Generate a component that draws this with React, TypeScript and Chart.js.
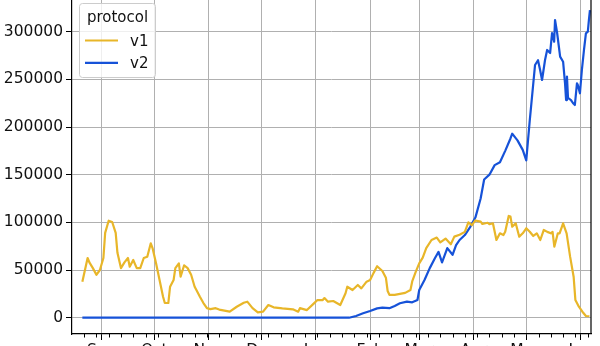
import React, { useEffect, useRef } from "react";
import { Chart, registerables } from "chart.js";

Chart.register(...registerables);

// Days are counted from 2022-09-01 (day 0).
const monthTickDays = [0, 30, 61, 91, 122, 153, 181, 212, 242, 273];
const monthTickLabels = ["Sep", "Oct", "Nov", "Dec", "Jan", "Feb", "Mar", "Apr", "May", "Jun"];
const yTickValues = [0, 50000, 100000, 150000, 200000, 250000, 300000];
const seriesLabels = ["v1", "v2"];
const legendTitle = "protocol";

const v1Days = [
  -11, -8, -7, -5, -3, -1, 1, 2, 4, 6, 8, 9, 11, 13, 15, 16, 18, 20, 22, 24, 26, 28, 29, 31, 33, 35, 36, 38, 39, 41,
  42, 44, 45, 47, 49, 51, 53, 54, 56, 58, 60, 62, 65, 67, 73, 77, 81, 83, 86, 89, 92, 95, 98, 103, 109, 112, 113,
  117, 121, 123, 126, 127, 129, 132, 136, 139, 140, 143, 146, 148, 151, 153, 155, 157, 160, 162, 163, 164, 167, 170,
  173, 176, 177, 179, 181, 183, 185, 188, 191, 193, 196, 199, 201, 204, 207, 209, 211, 213, 216, 217, 220, 221, 223,
  225, 227, 229, 230, 232, 233, 234, 236, 238, 240, 242, 244, 246, 248, 250, 252, 254, 256, 257, 258, 260, 261, 263,
  265, 267, 269, 270, 272, 274, 276, 278,
];
const v1Values = [
  37800, 62600, 58000, 52000, 45000, 50000, 62600, 89000, 101700, 100400, 89000, 68000, 52000, 58000, 62600, 53500,
  60500, 52000, 52000, 62600, 64000, 78000, 73000, 57000, 39500, 22000, 15400, 15400, 32500, 39500, 52000, 57000,
  43000, 55000, 52000, 45000, 32500, 29000, 22000, 15400, 10000, 9000, 10000, 8500, 6300, 11500, 15700, 16800, 10000,
  5600, 6300, 13300, 10900, 9800, 8800, 6300, 10000, 8000, 15000, 18500, 18500, 20600, 16800, 17500, 13300, 25600,
  32500, 29000, 34300, 30800, 37800, 39500, 47000, 54000, 49000, 42000, 28000, 24000, 24000, 25000, 26000, 29000,
  38000, 48000, 57000, 63000, 73000, 81500, 84000, 79000, 83000, 77000, 85000, 87000, 90000, 100000, 97000, 102000,
  100700, 98300, 99600, 98000, 99000, 81500, 88500, 86700, 90200, 106700, 106000, 95400, 99000, 85000, 88500, 93800,
  90200, 85700, 88500, 81500, 92000, 90000, 88500, 90000, 74500, 88500, 88500, 99000, 88500, 64000, 43000, 18500,
  11500, 6300, 1800, 1500,
];

const v2Days = [
  -11, 141, 145, 149, 153, 157, 160, 164, 167, 170, 174, 177, 180, 181, 184, 187, 190, 192, 194, 197, 200, 202, 204,
  207, 210, 213, 216, 218, 221, 224, 227, 230, 233, 234, 237, 240, 242, 244, 247, 248.7, 249.9, 251, 252.7, 253.9,
  255.6, 256.7, 257.9, 258.4, 259.6, 261.3, 263, 264.1, 264.7, 265.2, 265.8, 267.5, 268.7, 269.7, 270.9, 271.4, 272.6,
  273.7, 274.9, 276, 277.1, 277.7, 278.3,
];
const v2Values = [
  0, 0, 1800, 4600, 7000, 9800, 10500, 10000, 12300, 15100, 16800, 16100, 18500, 29000, 39500, 52000, 62600, 69000,
  58000, 73000, 66000, 76000, 81500, 86700, 95000, 105000, 125000, 145000, 150000, 160000, 163000, 175000, 188000,
  193000, 186000, 176000, 165000, 207000, 265000, 270000, 259800, 249300, 270300, 280800, 277600, 298600, 289500,
  312200, 298600, 273800, 268500, 245800, 228300, 252800, 230500, 228300, 224900, 223100, 245800, 244000, 235400,
  259800, 280800, 298300, 300000, 312200, 322700,
];

const YELLOW = "#e8b629";
const BLUE = "#1652d8";
const GRID = "#b0b0b0";
const TEXT = "#111111";
const FONT_FAMILY = "'DejaVu Sans', sans-serif";
const TICK_FONT_SIZE = 15.5;
const LEGEND_FONT_SIZE = 15;

const framePlugin = {
  id: "frame",
  afterDraw(chart: any) {
    const { ctx, chartArea: a, scales } = chart;
    const xs = scales.x;
    ctx.save();
    // right and top spines
    ctx.strokeStyle = "#000";
    ctx.lineWidth = 1.2;
    ctx.beginPath();
    ctx.moveTo(a.right, a.top);
    ctx.lineTo(a.right, a.bottom);
    ctx.moveTo(a.left, a.top);
    ctx.lineTo(a.right, a.top);
    ctx.stroke();
    // weekly minor ticks (Mondays)
    ctx.lineWidth = 1;
    ctx.beginPath();
    for (let d = -17; d <= xs.max; d += 7) {
      if (d < xs.min || monthTickDays.includes(d)) continue;
      const px = Math.round(xs.getPixelForValue(d)) + 0.5;
      ctx.moveTo(px, a.bottom);
      ctx.lineTo(px, a.bottom + 3.5);
    }
    ctx.stroke();
    // legend
    const bx = a.left + 7.5;
    const by = a.top + 19.5;
    const bw = 76;
    const bh = 74;
    const r = 3;
    ctx.beginPath();
    ctx.moveTo(bx + r, by);
    ctx.lineTo(bx + bw - r, by);
    ctx.arcTo(bx + bw, by, bx + bw, by + r, r);
    ctx.lineTo(bx + bw, by + bh - r);
    ctx.arcTo(bx + bw, by + bh, bx + bw - r, by + bh, r);
    ctx.lineTo(bx + r, by + bh);
    ctx.arcTo(bx, by + bh, bx, by + bh - r, r);
    ctx.lineTo(bx, by + r);
    ctx.arcTo(bx, by, bx + r, by, r);
    ctx.closePath();
    ctx.fillStyle = "rgba(255,255,255,0.8)";
    ctx.fill();
    ctx.strokeStyle = "#cccccc";
    ctx.lineWidth = 1;
    ctx.stroke();

    ctx.font = `${LEGEND_FONT_SIZE}px ${FONT_FAMILY}`;
    ctx.fillStyle = TEXT;
    ctx.textBaseline = "alphabetic";
    ctx.textAlign = "center";
    ctx.fillText(legendTitle, bx + bw / 2, by + 18.5);
    ctx.textAlign = "left";
    chart.data.datasets.forEach((ds: any, i: number) => {
      const ly = by + 37 + i * 22.3;
      ctx.strokeStyle = ds.borderColor;
      ctx.lineWidth = 2.2;
      ctx.beginPath();
      ctx.moveTo(bx + 5.5, ly);
      ctx.lineTo(bx + 38.5, ly);
      ctx.stroke();
      ctx.fillStyle = TEXT;
      ctx.fillText(ds.label, bx + 50.5, ly + 5.5);
    });
    ctx.restore();
  },
};

export default function App() {
  const ref = useRef<HTMLCanvasElement>(null);

  useEffect(() => {
    const canvas = ref.current;
    if (!canvas) return;
    const font = { family: FONT_FAMILY, size: TICK_FONT_SIZE };
    const chart = new Chart(canvas, {
      type: "line",
      data: {
        datasets: [
          {
            label: seriesLabels[0],
            data: v1Days.map((d, i) => ({ x: d, y: v1Values[i] })),
            borderColor: YELLOW,
            backgroundColor: YELLOW,
          },
          {
            label: seriesLabels[1],
            data: v2Days.map((d, i) => ({ x: d, y: v2Values[i] })),
            borderColor: BLUE,
            backgroundColor: BLUE,
          },
        ],
      },
      options: {
        animation: false,
        responsive: false,
        devicePixelRatio: 1,
        layout: { padding: { top: 16, right: 9, bottom: 0, left: 0 } },
        plugins: { legend: { display: false }, tooltip: { enabled: false } },
        elements: {
          point: { radius: 0 },
          line: { borderWidth: 2.2, tension: 0, borderJoinStyle: "round", borderCapStyle: "butt" },
        },
        scales: {
          x: {
            type: "linear",
            min: -16.9,
            max: 278.9,
            afterBuildTicks: (s: any) => {
              s.ticks = monthTickDays.map((v) => ({ value: v }));
            },
            afterFit: (s: any) => {
              s.height = 30;
            },
            ticks: {
              autoSkip: false,
              maxRotation: 0,
              padding: 1.5,
              color: TEXT,
              font,
              callback: (v: any) => monthTickLabels[monthTickDays.indexOf(Number(v))] ?? "",
            },
            grid: { color: GRID, lineWidth: 1, tickLength: 6, tickColor: "#000", tickWidth: 1 },
            border: { display: true, color: "#000", width: 1.2 },
          },
          y: {
            type: "linear",
            min: -17100,
            max: 350000,
            afterBuildTicks: (s: any) => {
              s.ticks = yTickValues.map((v) => ({ value: v }));
            },
            afterFit: (s: any) => {
              s.width = 72;
            },
            ticks: {
              padding: 3,
              color: TEXT,
              font,
              callback: (v: any) => String(v),
            },
            grid: { color: GRID, lineWidth: 1, tickLength: 6, tickColor: "#000", tickWidth: 1 },
            border: { display: true, color: "#000", width: 1.2 },
          },
        },
      },
      plugins: [framePlugin],
    });
    return () => chart.destroy();
  }, []);

  return (
    <div
      style={{
        position: "fixed",
        left: 0,
        top: 0,
        width: 600,
        height: 346,
        overflow: "hidden",
        background: "#ffffff",
      }}
    >
      <canvas
        ref={ref}
        width={600}
        height={396}
        style={{ position: "absolute", left: 0, top: -32, width: 600, height: 396 }}
      />
    </div>
  );
}
